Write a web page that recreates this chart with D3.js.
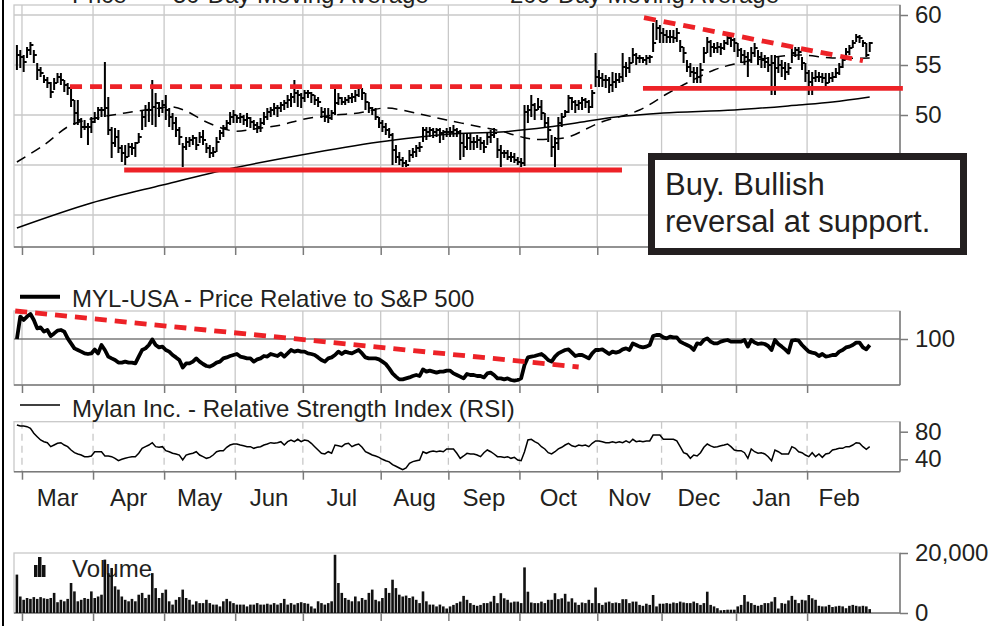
<!DOCTYPE html>
<html>
<head>
<meta charset="utf-8">
<script src="https://cdn.jsdelivr.net/npm/d3@7"></script>
<style>
  body { margin: 0; background: #fff; }
  svg { display: block; font-family: "Liberation Sans", Arial, sans-serif; }
</style>
</head>
<body>
<div id="chart"></div>
<script>
// ---- data (index = trading day) ----
const months = ["Mar", "Apr", "May", "Jun", "Jul", "Aug", "Sep", "Oct", "Nov", "Dec", "Jan", "Feb"];
const monthStart = [2, 23, 44, 65, 85, 108, 128, 149, 172, 191, 213, 234];

const high = [
  57.0,56.5,56.0,56.8,57.3,56.5,55.2,54.8,54.0,53.8,
  53.3,53.7,54.2,54.2,53.5,53.2,53.0,51.5,51.5,49.7,
  49.5,49.2,49.8,50.3,50.8,50.8,55.3,51.8,48.8,48.7,
  48.5,47.0,47.0,47.2,47.2,47.3,48.2,50.5,51.0,51.3,
  53.5,52.2,51.3,51.5,52.0,50.7,50.2,49.8,48.8,47.2,
  47.8,47.8,48.0,47.8,48.3,48.5,47.2,47.0,46.8,47.8,
  48.5,49.0,49.5,50.3,50.5,50.0,50.2,50.0,50.2,49.8,
  49.5,49.3,49.7,50.3,50.7,50.8,51.2,51.0,51.3,51.5,
  52.0,52.2,53.5,52.5,52.2,52.5,52.5,52.3,52.0,51.8,
  50.8,50.7,50.7,50.5,52.7,52.2,51.8,51.8,52.0,52.2,
  52.5,53.0,52.7,52.2,51.3,50.8,50.7,49.8,49.5,49.2,
  48.7,48.2,47.0,46.3,45.8,45.5,46.5,46.7,47.0,47.3,
  48.8,48.8,48.8,48.7,48.7,48.7,48.5,48.7,48.8,49.0,
  48.7,48.5,48.2,48.2,48.2,47.8,48.0,47.8,47.5,48.2,
  48.5,48.7,47.7,47.0,46.5,46.5,46.3,46.2,45.8,45.7,
  51.0,51.0,52.0,51.2,51.7,51.5,50.2,49.8,48.0,47.8,
  49.8,50.2,50.5,52.0,51.8,51.5,51.5,51.8,51.7,51.5,
  52.5,56.2,54.5,54.2,54.0,53.8,54.3,54.2,54.2,56.2,
  55.3,55.8,56.7,56.2,56.0,55.8,56.0,56.0,59.2,59.5,
  59.0,58.7,58.5,58.5,58.5,58.7,57.5,56.8,55.5,55.2,
  54.8,54.8,55.2,56.8,57.8,57.5,57.2,57.3,57.2,57.5,
  58.0,57.8,57.7,57.2,56.7,56.5,56.3,56.8,57.2,56.5,
  56.3,56.0,55.8,56.0,56.0,55.8,55.5,55.3,55.2,56.8,
  56.8,56.8,55.8,55.2,54.5,54.3,54.5,54.3,54.2,54.2,
  54.2,54.3,54.7,55.2,56.0,56.7,57.0,57.5,58.1,58.0,
  57.5,57.2,57.3
];
const low = [
  54.5,54.7,54.3,55.7,56.0,55.2,53.5,53.8,53.2,52.7,
  51.7,52.5,53.2,53.0,52.3,52.0,50.8,49.0,49.0,47.7,
  48.5,47.0,48.2,49.2,49.5,49.8,49.8,48.0,45.7,46.8,
  46.2,45.3,45.0,45.8,46.0,45.8,47.2,48.5,48.8,49.3,
  49.0,48.8,49.8,50.2,49.5,48.8,48.5,47.8,47.0,44.8,
  46.5,46.8,47.0,46.5,47.2,47.0,46.2,45.7,45.8,46.3,
  47.5,47.8,48.5,49.0,49.2,49.2,49.2,49.0,48.8,48.7,
  48.5,48.2,48.3,49.0,49.5,49.8,50.0,49.8,50.3,50.5,
  50.7,50.8,51.2,50.8,50.7,51.3,51.7,51.2,51.0,50.8,
  49.7,49.3,49.2,49.5,50.0,51.0,51.0,51.0,51.2,51.2,
  51.3,51.8,51.5,50.5,50.2,50.0,49.5,48.7,48.3,48.0,
  47.7,45.0,45.2,45.0,44.8,44.8,45.3,45.7,45.8,46.3,
  47.3,47.5,47.8,47.7,47.8,47.2,47.5,47.8,47.8,47.8,
  47.8,45.5,45.8,46.5,46.5,46.5,46.7,46.5,46.2,47.0,
  47.2,47.7,45.7,44.8,45.7,45.5,45.3,45.2,45.0,44.8,
  44.9,49.2,49.8,49.5,50.5,49.5,48.7,47.3,45.8,44.8,
  46.5,48.8,49.8,50.2,50.5,50.2,50.5,50.5,50.7,50.2,
  50.7,52.8,52.8,52.8,52.7,52.2,52.3,52.7,53.2,53.3,
  53.8,54.2,55.2,55.0,55.2,55.2,55.0,55.2,56.3,57.5,
  57.2,57.2,57.2,57.2,57.2,57.3,56.3,55.2,54.3,53.8,
  53.2,53.2,53.2,55.2,56.2,55.8,56.2,56.2,56.0,56.5,
  57.0,56.8,56.3,55.8,55.2,55.0,53.8,55.2,55.8,55.0,
  54.7,54.7,54.3,52.0,52.0,54.2,53.8,53.5,54.0,55.2,
  55.8,55.5,54.5,53.3,52.0,52.0,53.3,53.3,53.2,52.5,
  53.2,53.3,53.7,54.0,54.7,55.5,56.0,56.7,57.3,57.2,
  56.8,55.8,56.3
];
const close = [
  56.0,55.8,55.3,56.5,57.0,56.0,54.5,54.2,53.5,53.2,
  52.3,53.2,53.8,53.5,53.0,52.7,51.5,50.2,49.5,48.8,
  48.8,48.8,49.3,49.7,50.5,50.5,50.7,48.5,47.2,47.8,
  46.7,46.2,45.8,46.8,46.7,47.2,47.8,49.8,50.5,50.5,
  50.8,51.2,50.7,51.0,50.5,49.8,49.2,48.5,47.8,46.8,
  47.3,47.5,47.7,47.0,47.8,47.5,46.7,46.2,46.3,47.3,
  48.2,48.7,49.2,49.8,50.0,49.7,49.8,49.5,49.7,49.3,
  49.0,48.8,49.2,49.8,50.3,50.5,50.7,50.7,51.0,51.2,
  51.5,51.8,52.2,52.0,51.7,52.2,52.2,52.0,51.5,51.3,
  50.3,49.8,49.7,50.2,51.2,51.7,51.3,51.5,51.7,51.8,
  52.0,52.7,52.2,51.3,50.7,50.5,49.8,49.2,48.8,48.5,
  48.0,46.5,45.8,45.5,45.2,45.0,46.0,46.3,46.7,46.8,
  48.5,48.3,48.5,48.3,48.5,48.2,48.3,48.3,48.3,48.5,
  48.3,47.2,46.8,47.7,47.3,47.3,47.5,47.2,46.8,47.8,
  48.0,48.2,46.5,46.2,46.2,45.8,45.8,45.5,45.3,45.2,
  50.3,50.5,51.0,50.5,50.8,50.2,49.2,48.5,46.8,47.2,
  49.2,49.8,50.3,51.7,51.3,51.0,51.2,51.5,51.3,50.8,
  52.2,53.8,53.7,53.5,53.5,53.0,53.3,53.5,53.8,54.8,
  54.7,55.2,56.0,55.7,55.7,55.5,55.7,55.8,57.2,58.7,
  58.2,58.0,57.8,57.8,57.7,58.2,56.8,56.2,54.8,54.3,
  54.2,53.8,54.5,56.2,57.3,56.8,56.7,56.8,56.7,57.2,
  57.7,57.5,57.2,56.5,56.0,55.8,55.5,56.2,56.7,55.8,
  55.5,55.3,55.0,55.2,54.7,55.0,54.7,54.3,54.7,56.2,
  56.5,56.3,55.2,54.2,53.3,53.7,53.8,53.8,53.7,53.2,
  53.7,53.8,54.2,54.8,55.5,56.3,56.7,57.2,57.8,57.7,
  57.2,56.0,57.2
];

// moving averages, [day, value]
const ma50 = [[0,45.3],[8,47.0],[16,49.0],[25,49.8],[32,50.2],[40,50.6],[46,50.8],[50,50.4],
  [56,49.3],[64,48.4],[70,48.6],[78,49.0],[85,49.6],[94,50.0],[101,50.2],[109,50.7],[119,50.1],
  [127,49.5],[137,48.8],[143,48.4],[147,48.0],[152,47.6],[158,47.6],[163,47.8],[172,49.2],
  [184,50.5],[192,52.1],[198,53.2],[206,54.5],[212,55.1],[222,55.7],[231,56.0],[241,55.7],[252,55.7]];
const ma200 = [[0,38.7],[22,41.2],[43,43.0],[64,44.7],[84,46.0],[107,47.3],[119,47.8],[128,48.1],
  [143,48.3],[157,48.8],[167,49.3],[177,49.8],[191,50.2],[212,50.5],[231,51.0],[241,51.3],[252,51.8]];

const relative = [
  100.0,111.2,109.5,111.2,112.5,109.5,105.3,105.8,103.7,104.5,
  101.5,102.8,104.2,104.5,103.7,100.3,97.8,95.3,94.5,93.7,
  92.8,92.5,92.8,94.8,92.8,97.0,94.5,91.2,90.3,89.5,
  88.2,88.2,88.7,88.2,88.2,87.8,91.2,94.5,95.3,97.0,
  99.8,97.0,95.8,96.2,94.5,93.7,92.0,90.8,89.5,85.8,
  87.8,87.8,88.7,90.3,88.7,87.5,86.5,86.2,87.0,88.2,
  88.7,90.3,90.8,91.5,92.0,92.5,91.2,90.8,90.3,90.3,
  88.7,89.8,90.3,91.5,91.2,92.5,92.0,91.5,92.8,91.2,
  92.8,94.5,93.7,94.2,93.7,93.7,92.8,92.5,92.0,90.8,
  89.5,88.7,90.3,90.8,92.0,93.7,92.5,93.7,93.2,92.8,
  93.7,94.5,92.8,90.8,90.3,90.3,90.3,89.8,88.7,87.5,
  85.3,82.8,81.2,79.8,79.8,80.3,80.8,81.5,82.0,81.5,
  84.8,83.7,84.2,83.7,83.2,83.7,83.7,84.2,84.2,82.8,
  82.0,81.2,80.3,82.5,82.0,82.0,81.5,81.5,80.8,82.8,
  83.2,82.0,80.3,80.3,79.8,80.3,79.5,79.2,79.5,80.3,
  87.0,90.8,91.2,91.5,92.0,92.5,91.2,89.5,88.7,91.2,
  92.8,93.7,94.5,94.8,93.2,91.5,92.0,92.0,91.2,90.3,
  92.8,94.5,94.5,94.8,93.7,92.5,93.7,93.2,93.7,94.8,
  95.3,94.5,97.8,97.0,96.2,95.8,96.2,97.0,101.5,102.0,
  102.0,100.8,100.3,101.2,100.8,100.8,98.7,97.8,97.0,96.2,
  94.5,97.8,97.5,99.5,100.3,98.7,97.8,97.8,98.7,99.2,
  99.5,98.7,98.7,98.7,98.7,99.5,96.2,99.5,98.2,97.5,
  97.8,97.5,96.5,94.5,99.5,97.5,96.2,94.8,93.2,99.2,
  99.5,99.2,97.0,95.3,93.7,93.2,92.8,91.5,92.5,91.2,
  91.5,92.0,92.0,93.7,94.5,95.8,96.2,97.0,98.2,98.2,
  95.8,94.8,97.0
];

const rsi = [
  89.7,88.3,88.3,87.3,84.9,77.7,72.8,68.0,65.5,64.1,
  58.3,60.7,63.2,64.1,60.7,58.3,53.5,49.6,47.7,46.2,
  43.8,43.8,44.8,51.0,51.0,51.0,44.8,44.8,43.8,41.4,
  38.0,40.0,41.4,42.8,43.8,43.8,48.7,55.9,58.3,60.7,
  64.1,58.3,57.4,58.3,52.5,51.0,48.7,47.7,46.2,39.0,
  46.2,47.7,48.7,51.0,46.2,43.8,41.4,42.8,46.2,51.0,
  52.5,52.5,57.4,60.7,62.2,62.2,60.7,59.5,58.3,58.3,
  55.9,57.4,58.3,60.7,62.2,64.1,63.2,64.1,65.5,60.7,
  65.5,68.0,65.5,69.0,65.5,68.0,67.0,63.2,58.3,53.5,
  48.7,47.7,51.0,48.7,60.7,59.5,58.3,62.2,63.2,58.3,
  60.7,62.2,57.4,51.0,48.7,46.2,44.8,42.8,40.0,38.0,
  36.3,32.2,29.9,27.4,25.0,27.4,34.2,36.6,38.0,39.0,
  51.0,48.7,51.0,52.0,51.0,52.0,51.0,55.0,55.0,55.0,
  48.7,41.4,44.8,48.7,47.7,47.7,46.2,43.8,49.6,53.5,
  51.0,47.7,43.8,43.8,42.8,43.8,41.4,42.8,39.0,38.0,
  51.0,68.0,69.0,65.5,63.2,58.3,55.0,49.6,47.7,51.0,
  55.0,57.4,60.7,63.2,59.5,58.3,60.7,59.5,60.7,58.3,
  63.2,66.6,66.6,65.5,64.1,64.1,65.5,64.1,65.5,64.1,
  66.6,64.1,69.0,65.5,66.6,65.5,66.6,66.6,75.2,75.2,
  75.2,69.0,69.0,69.0,69.0,66.6,58.3,49.6,47.7,41.4,
  46.2,44.8,49.6,57.4,62.2,59.5,57.4,58.3,59.5,60.7,
  62.2,58.3,53.5,52.5,52.5,49.6,41.4,55.0,51.0,48.7,
  49.6,47.7,43.8,38.0,53.5,51.0,47.7,47.7,47.7,58.3,
  55.9,51.0,49.6,46.2,43.8,49.6,43.8,47.7,42.8,47.7,
  48.7,53.5,54.5,55.9,55.9,58.3,58.3,60.7,64.1,63.2,
  58.3,54.5,58.3
];

// volume in thousands
const volume = [
  12.8,5.5,4.4,5.0,4.7,5.3,4.7,5.3,4.9,4.7,
  5.0,6.7,3.6,4.4,3.9,4.7,10.0,7.2,3.9,4.4,
  5.0,4.7,7.2,5.0,5.5,6.1,17.8,13.3,15.0,8.9,
  7.8,5.5,4.4,3.9,4.7,3.9,6.1,6.7,5.0,6.1,
  13.3,8.3,5.0,6.7,7.8,3.9,2.8,4.4,5.3,7.8,
  5.0,4.4,2.8,3.9,3.3,3.3,4.4,3.3,2.8,2.8,
  2.2,3.9,4.7,3.9,3.3,2.8,2.8,2.8,2.2,2.8,
  2.8,3.3,2.8,2.8,3.1,2.8,3.3,2.8,3.3,4.7,
  2.8,3.3,2.8,3.3,3.6,3.3,3.1,2.2,1.5,3.9,
  3.3,2.8,3.3,3.9,19.4,10.0,6.7,5.0,4.4,3.9,
  5.5,3.9,5.0,4.4,6.7,7.8,4.4,3.9,5.0,8.3,
  6.7,11.1,8.3,6.1,5.5,5.8,5.0,5.5,4.4,3.3,
  7.2,3.9,2.8,2.8,2.2,2.8,2.2,1.5,2.2,2.7,
  3.3,3.8,5.7,4.4,3.3,2.7,2.4,2.7,3.3,3.3,
  3.8,5.7,3.3,6.6,4.9,4.4,3.5,3.8,3.8,3.3,
  15.2,7.1,3.5,3.3,3.3,3.8,3.3,4.4,4.4,6.6,
  4.6,4.9,6.4,3.8,4.9,3.5,2.7,3.5,3.3,4.4,
  3.3,8.5,3.3,2.7,3.5,3.8,3.3,3.5,3.3,4.6,
  4.6,3.3,3.8,3.8,2.7,2.4,3.1,2.7,6.0,2.2,
  3.1,3.1,3.3,3.1,3.5,3.3,3.8,3.5,3.3,3.3,
  3.8,3.3,2.7,3.3,7.1,2.7,2.2,1.6,0.9,1.0,
  1.1,1.1,1.1,2.2,2.7,6.0,3.8,3.3,2.7,2.4,
  2.7,3.3,3.3,3.8,5.3,1.5,3.3,3.1,4.2,5.7,
  4.4,3.3,4.4,4.2,6.0,4.9,4.4,2.4,2.2,2.2,
  2.7,2.0,2.2,2.4,2.2,1.6,2.4,2.7,2.4,2.2,
  2.4,2.2,1.3
];

const priceGrid = [40, 45, 50, 55, 60];
const priceTicks = [50, 55, 60];
const relTicks = [100];
const rsiTicks = [40, 80];
const volTicks = [0, 20];

// red annotation lines, in [day, value]
const resistanceFlat = [[15.7, 52.83], [170, 52.83]];
const supportLow = [[31.7, 44.5], [178.8, 44.5]];
const supportHigh = [[185, 52.67], [261.8, 52.67]];
const topTrend = [[185.3, 59.73], [250, 55.43]];
const relTrend = [[-0.5, 114], [166, 86]];

const note = ["Buy. Bullish", "reversal at support."];

// ---- layout ----
const W = 999, H = 626;
const L = 14, R = 900;
const gridCol = "#c8c8c8", axisCol = "#7a7a7a", ink = "#231f20", red = "#ed2227";

const svg = d3.select("#chart").append("svg")
  .attr("width", W).attr("height", H);

const x = d3.scaleLinear().domain([0, 252]).range([16.9, 869.7]);
const yPrice = d3.scaleLinear().domain([40, 60]).range([215, 15]);
const yRel = d3.scaleLinear().domain([77, 114]).range([385, 311]);
const yRsi = d3.scaleLinear().domain([40, 80]).range([459.3, 431.7]);
const yVol = d3.scaleLinear().domain([0, 20]).range([613, 553]);

const panels = [
  {top: 5, bottom: 247, y: yPrice, ticks: priceTicks, grid: priceGrid, vgrid: "solid"},
  {top: 311, bottom: 385, y: yRel, ticks: relTicks, grid: [], vgrid: "solid"},
  {top: 421.7, bottom: 471.7, y: yRsi, ticks: rsiTicks, grid: [], vgrid: "dash"},
  {top: 553, bottom: 613, y: yVol, ticks: volTicks, grid: [], vgrid: null, fmt: d => d3.format(",")(d * 1000)}
];

const gridX = monthStart.map(s => x(s - 0.5));

// outer left rule
svg.append("line").attr("x1", 3).attr("x2", 3).attr("y1", 0).attr("y2", H)
  .attr("stroke", "#000").attr("stroke-width", 2);

panels.forEach(p => {
  const g = svg.append("g");
  // frame
  g.append("rect").attr("x", L).attr("y", p.top)
    .attr("width", R - L).attr("height", p.bottom - p.top)
    .attr("fill", "none").attr("stroke", gridCol).attr("stroke-width", 1.3);
  if (p.vgrid) {
    g.selectAll(".vg").data(gridX).join("line")
      .attr("x1", d => d).attr("x2", d => d)
      .attr("y1", p.top).attr("y2", p.bottom)
      .attr("stroke", gridCol).attr("stroke-width", 1.3)
      .attr("stroke-dasharray", p.vgrid === "dash" ? "7,5" : null);
  }
  g.selectAll(".hg").data(p.grid).join("line")
    .attr("x1", L).attr("x2", R)
    .attr("y1", d => p.y(d)).attr("y2", d => p.y(d))
    .attr("stroke", gridCol).attr("stroke-width", 1.3);
  // bottom line and month ticks
  g.append("line").attr("x1", L).attr("x2", R).attr("y1", p.bottom).attr("y2", p.bottom)
    .attr("stroke", axisCol).attr("stroke-width", 1.5);
  const ax = g.append("g").attr("transform", `translate(0,${p.bottom})`)
    .call(d3.axisBottom(x).tickValues(monthStart.map(s => s - 0.5)).tickFormat("").tickSize(8));
  ax.select(".domain").remove();
  ax.selectAll("line").attr("stroke", axisCol).attr("stroke-width", 1.5);
  // right axis
  g.append("line").attr("x1", R).attr("x2", R).attr("y1", p.top).attr("y2", p.bottom)
    .attr("stroke", axisCol).attr("stroke-width", 1.5);
  const ay = g.append("g").attr("transform", `translate(${R},0)`)
    .call(d3.axisRight(p.y).tickValues(p.ticks).tickSize(8).tickPadding(7)
      .tickFormat(p.fmt || (d => d)));
  ay.select(".domain").remove();
  ay.selectAll("line").attr("stroke", axisCol).attr("stroke-width", 1.5);
  ay.selectAll("text").attr("fill", ink).attr("font-size", 24)
    .attr("font-family", "'Liberation Sans', Arial, sans-serif");
});

// reference line at 100 on the relative panel
svg.append("line").attr("x1", L).attr("x2", R).attr("y1", yRel(100)).attr("y2", yRel(100))
  .attr("stroke", axisCol).attr("stroke-width", 1.5);

// ---- top panel ----
const maLine = d3.line().x(d => x(d[0])).y(d => yPrice(d[1])).curve(d3.curveCatmullRom);
svg.append("path").attr("d", maLine(ma200))
  .attr("fill", "none").attr("stroke", "#000").attr("stroke-width", 1.5);
svg.append("path").attr("d", maLine(ma50))
  .attr("fill", "none").attr("stroke", "#000").attr("stroke-width", 1.5)
  .attr("stroke-dasharray", "10,7");

const bars = svg.append("g").attr("stroke", "#000").attr("stroke-width", 2).attr("fill", "none");
bars.selectAll("path").data(close).join("path")
  .attr("d", (c, i) => `M${x(i)},${yPrice(high[i])}V${yPrice(low[i])}M${x(i)},${yPrice(c)}H${x(i) + 3}`);

// red study lines
const redLine = d3.line().x(d => x(d[0])).y(d => yPrice(d[1]));
[[resistanceFlat, true], [supportLow, false], [supportHigh, false], [topTrend, true]].forEach(([pts, dashed]) => {
  svg.append("path").attr("d", redLine(pts))
    .attr("stroke", red).attr("stroke-width", 4.8).attr("fill", "none")
    .attr("stroke-dasharray", dashed ? "12,8" : null);
});

// top legend (cut by the top edge, as in the source)
const legend = [["Price", 72], ["50-Day Moving Average", 173], ["200-Day Moving Average", 510]];
svg.selectAll(".lg").data(legend).join("text")
  .attr("x", d => d[1]).attr("y", 2.5)
  .attr("font-size", 24).attr("fill", ink).text(d => d[0]);

// note box
svg.append("rect").attr("x", 651.5).attr("y", 156.5).attr("width", 312).attr("height", 95)
  .attr("fill", "#fff").attr("stroke", ink).attr("stroke-width", 7);
svg.selectAll(".note").data(note).join("text")
  .attr("x", 665).attr("y", (d, i) => 195 + i * 37)
  .attr("font-size", 31).attr("fill", ink).text(d => d);

// ---- relative panel ----
svg.append("path")
  .attr("d", d3.line().x((d, i) => x(i)).y(d => yRel(d))(relative))
  .attr("fill", "none").attr("stroke", "#000").attr("stroke-width", 3.8)
  .attr("stroke-linejoin", "round");
svg.append("path")
  .attr("d", d3.line().x(d => x(d[0])).y(d => yRel(d[1]))(relTrend))
  .attr("stroke", red).attr("stroke-width", 4.8).attr("stroke-dasharray", "12,8").attr("fill", "none");
svg.append("line").attr("x1", 20).attr("x2", 60).attr("y1", 296.7).attr("y2", 296.7)
  .attr("stroke", "#000").attr("stroke-width", 4);
svg.append("text").attr("x", 72).attr("y", 307).attr("font-size", 24).attr("fill", ink)
  .text("MYL-USA - Price Relative to S&P 500");

// ---- RSI panel ----
svg.append("path")
  .attr("d", d3.line().x((d, i) => x(i)).y(d => yRsi(d))(rsi))
  .attr("fill", "none").attr("stroke", "#000").attr("stroke-width", 1.5);
svg.append("line").attr("x1", 20).attr("x2", 60).attr("y1", 405).attr("y2", 405)
  .attr("stroke", "#000").attr("stroke-width", 1.5);
svg.append("text").attr("x", 72).attr("y", 416.5).attr("font-size", 24).attr("fill", ink)
  .text("Mylan Inc. - Relative Strength Index (RSI)");

// month labels
const monthEnd = monthStart.slice(1).concat([253]);
svg.selectAll(".mon").data(months).join("text")
  .attr("x", (d, i) => x((monthStart[i] + monthEnd[i] - 1) / 2))
  .attr("y", 506).attr("text-anchor", "middle")
  .attr("font-size", 24).attr("fill", ink).text(d => d);

// ---- volume panel ----
svg.append("text").attr("x", 72).attr("y", 577).attr("font-size", 24).attr("fill", ink).text("Volume");
[[34, 565, 12], [38, 557, 20], [42, 565, 12]].forEach(([bx, by, bh]) => {
  svg.append("rect").attr("x", bx).attr("y", by).attr("width", 3.5).attr("height", bh).attr("fill", "#111");
});
svg.append("g").selectAll("rect").data(volume).join("rect")
  .attr("x", (d, i) => x(i) - 1.3).attr("width", 2.6)
  .attr("y", d => yVol(d)).attr("height", d => yVol(0) - yVol(d))
  .attr("fill", "#111");
</script>
</body>
</html>
